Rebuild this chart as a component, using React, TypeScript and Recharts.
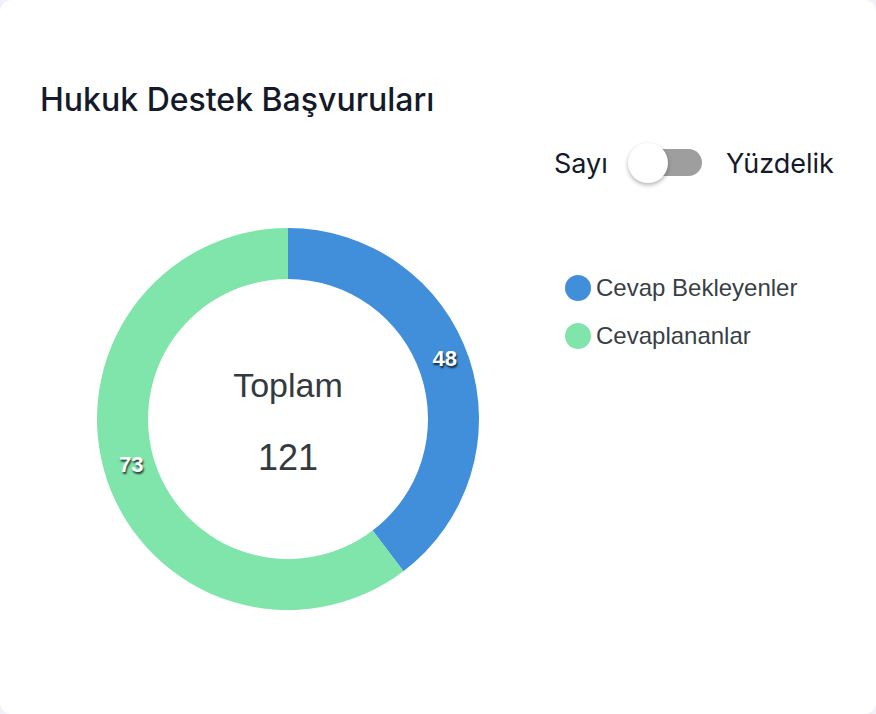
import { Cell, Legend, Pie, PieChart } from 'recharts'

const categories = ['Cevap Bekleyenler', 'Cevaplananlar']
const values = [48, 73]
const colors = ['#418fdb', '#80e5ab']

const data = categories.map((name, i) => ({ name, value: values[i] }))
const total = values.reduce((a, b) => a + b, 0)

const RADIAN = Math.PI / 180

const renderLabel = (props: any) => {
  const { cx, cy, midAngle, innerRadius, outerRadius, value } = props
  const r = (innerRadius + outerRadius) / 2
  const x = cx + r * Math.cos(-midAngle * RADIAN)
  const y = cy + r * Math.sin(-midAngle * RADIAN)
  return (
    <text
      x={x}
      y={y}
      fill='#fff'
      textAnchor='middle'
      style={{
        fontFamily: '"Liberation Sans", Arial, sans-serif',
        fontSize: 22,
        fontWeight: 700,
        textShadow: '1px 2px 2px rgba(0,0,0,0.75)',
      }}
    >
      {value}
    </text>
  )
}

const renderLegend = (props: any) => {
  const { payload } = props
  return (
    <div>
      {(payload || []).map((entry: any) => (
        <div
          key={entry.value}
          style={{ display: 'flex', alignItems: 'center', height: 48 }}
        >
          <span
            style={{
              width: 26,
              height: 26,
              borderRadius: '50%',
              background: entry.color,
              marginRight: 5,
              display: 'inline-block',
            }}
          />
          <span
            style={{
              fontFamily: '"Liberation Sans", Arial, sans-serif',
              fontSize: 24,
              color: '#3a3f45',
            }}
          >
            {entry.value}
          </span>
        </div>
      ))}
    </div>
  )
}

export default function App() {
  return (
    <div
      style={{
        position: 'absolute',
        left: 0,
        top: 0,
        width: 876,
        height: 714,
        background: '#f1f0fb',
      }}
    >
      <div
        style={{
          position: 'absolute',
          left: 0,
          top: 0,
          width: 876,
          height: 714,
          background: '#fff',
          borderRadius: 12,
        }}
      >
        <div
          style={{
            position: 'absolute',
            left: 40,
            top: 80,
            fontFamily: 'Inter, sans-serif',
            fontWeight: 500,
            fontSize: 32,
            color: '#141a29',
          }}
        >
          Hukuk Destek Başvuruları
        </div>

        {/* Toggle */}
        <div
          style={{
            position: 'absolute',
            left: 554,
            top: 147,
            fontFamily: 'Inter, sans-serif',
            fontSize: 27,
            color: '#141a29',
          }}
        >
          Sayı
        </div>
        <div
          style={{
            position: 'absolute',
            left: 632,
            top: 149,
            width: 70,
            height: 27,
            borderRadius: 14,
            background: '#9e9e9e',
          }}
        />
        <div
          style={{
            position: 'absolute',
            left: 628,
            top: 143,
            width: 40,
            height: 40,
            borderRadius: '50%',
            background: '#fff',
            boxShadow: '0 2px 4px rgba(0,0,0,0.3)',
          }}
        />
        <div
          style={{
            position: 'absolute',
            left: 726,
            top: 147,
            fontFamily: 'Inter, sans-serif',
            fontSize: 27,
            color: '#141a29',
          }}
        >
          Yüzdelik
        </div>

        <PieChart
          width={876}
          height={714}
          margin={{ top: 0, right: 0, bottom: 0, left: 0 }}
          style={{ position: 'absolute', left: 0, top: 0 }}
        >
          <Pie
            data={data}
            dataKey='value'
            nameKey='name'
            cx={288}
            cy={419}
            innerRadius={140}
            outerRadius={191}
            startAngle={90}
            endAngle={-270}
            stroke='none'
            label={renderLabel}
            labelLine={false}
            isAnimationActive={false}
          >
            {data.map((d, i) => (
              <Cell key={d.name} fill={colors[i]} />
            ))}
          </Pie>
          <Legend
            layout='vertical'
            content={renderLegend}
            wrapperStyle={{ position: 'absolute', left: 565, top: 264, width: 300 }}
          />
        </PieChart>

        <div
          style={{
            position: 'absolute',
            left: 188,
            top: 366,
            width: 200,
            textAlign: 'center',
            fontFamily: '"Liberation Sans", Arial, sans-serif',
            fontSize: 34,
            color: '#333a40',
          }}
        >
          Toplam
        </div>
        <div
          style={{
            position: 'absolute',
            left: 188,
            top: 437,
            width: 200,
            textAlign: 'center',
            fontFamily: '"Liberation Sans", Arial, sans-serif',
            fontSize: 36,
            color: '#333a40',
          }}
        >
          {total}
        </div>
      </div>
    </div>
  )
}
